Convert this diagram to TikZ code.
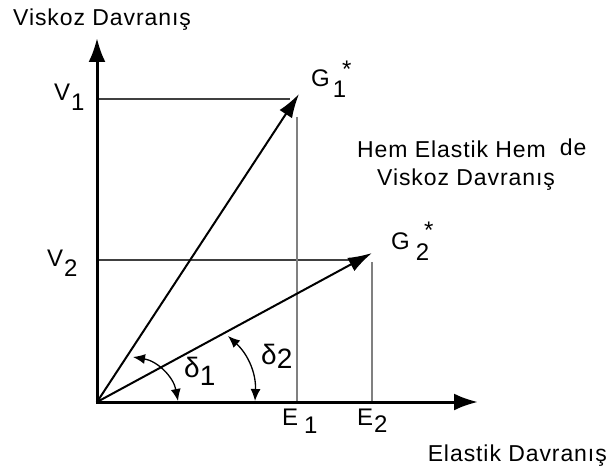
\documentclass[tikz,border=0pt]{standalone}
\usepackage{fontspec}
\setmainfont{Liberation Sans}[LetterSpace=4]
\usetikzlibrary{arrows.meta}
\begin{document}
\begin{tikzpicture}[x=1pt,y=-1pt,
  axis/.style={line width=3pt,-{Latex[length=24pt,width=17pt]}},
  vec/.style={line width=2pt,-{Latex[length=24pt,width=15pt]}},
  guideh/.style={line width=1.4pt,black!75},
  guidev/.style={line width=1.8pt,black!50},
  angarc/.style={line width=1.3pt,{Latex[length=12pt,width=10pt]}-{Latex[length=12pt,width=10pt]}},
  lbl/.style={inner sep=0pt,font=\fontsize{23}{27}\selectfont},
  sym/.style={inner sep=0pt,font=\fontsize{24}{28}\selectfont},
  grk/.style={inner sep=0pt,font=\fontsize{28}{30}\selectfont}]
\useasboundingbox (0,0) rectangle (613,468);
\coordinate (O) at (97,402);
\coordinate (Ytop) at (97,38);
\coordinate (Xend) at (478,402);
\coordinate (G1) at (299,94);
\coordinate (G2) at (372,253);
\coordinate (V1) at (97,99);
\coordinate (V1e) at (290,99);
\coordinate (V2) at (97,260);
\coordinate (V2e) at (362,260);
\coordinate (E1t) at (297,117);
\coordinate (E1b) at (297,402);
\coordinate (E2t) at (372,262);
\coordinate (E2b) at (372,402);
\coordinate (d1a) at (133,357);
\coordinate (d1b) at (178,401);
\coordinate (d2a) at (228,336);
\coordinate (d2b) at (255,401);
% guides
\draw[guideh] (V1) -- (V1e);
\draw[guideh] (V2) -- (V2e);
\draw[guidev] (E1t) -- (E1b);
\draw[guidev] (E2t) -- (E2b);
% axes
\draw[axis] (O) -- (Ytop);
\draw[axis] ([xshift=-1.5pt]O) -- (Xend);
% vectors
\draw[vec] (O) -- (G1);
\draw[vec] (O) -- (G2);
% angle arcs
\draw[angarc] (d1a) to[bend left=35] (d1b);
\draw[angarc] (d2a) to[bend left=25] (d2b);
% labels
\node[lbl,anchor=west] (ty) at (13,20) {Viskoz Davranış};
\node[lbl,anchor=east] (tx) at (607,456) {Elastik Davranış};
\node[lbl,anchor=west] (t1) at (357,148) {Hem Elastik Hem\hspace{14pt}\raisebox{2pt}{de}};
\node[lbl,anchor=west] (t2) at (377,180) {Viskoz Davranış};
\node[sym,anchor=west] (lv1) at (54,97) {V\hspace{1pt}\raisebox{-10pt}{1}};
\node[sym,anchor=west] (lv2) at (47,263) {V\hspace{1pt}\raisebox{-10pt}{2}};
\node[sym,anchor=west] (lg1) at (311,79) {G\hspace{3pt}\raisebox{-11pt}{1}\hspace{-4pt}\raisebox{9pt}{*}};
\node[sym,anchor=west] (lg2) at (391,241) {G\hspace{6pt}\raisebox{-11pt}{2}\hspace{-5pt}\raisebox{11pt}{*}};
\node[sym,anchor=west] (le1) at (282,421) {E\hspace{6pt}\raisebox{-8pt}{1}};
\node[sym,anchor=west] (le2) at (357,421) {E\hspace{1pt}\raisebox{-7pt}{2}};
\node[grk,anchor=west] (ld1) at (184,371) {δ\raisebox{-8pt}{1}};
\node[grk,anchor=west] (ld2) at (261,356) {δ\raisebox{-4pt}{2}};
\end{tikzpicture}
\end{document}
